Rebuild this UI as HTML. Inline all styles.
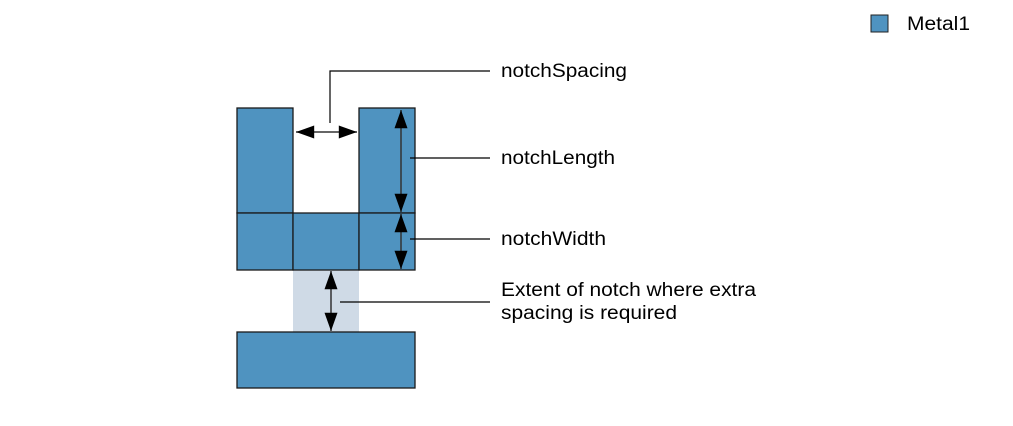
<!DOCTYPE html>
<html><head><style>body{margin:0;background:#fff}svg{display:block}text{font-family:"Liberation Sans",sans-serif;font-size:19px;fill:#000}</style></head><body>
<svg width="1013" height="426" viewBox="0 0 1013 426" xmlns="http://www.w3.org/2000/svg">
<defs>
<marker id="b" viewBox="0 0 14 10" refX="14" refY="5" markerWidth="22" markerHeight="13" markerUnits="userSpaceOnUse" orient="auto-start-reverse"><path d="M0,0L14,5L0,10z" fill="#000"/></marker>
</defs>
<rect x="871" y="15" width="17" height="17" fill="#4f93c0" stroke="#222"/>
<text x="907" y="30" textLength="63" lengthAdjust="spacingAndGlyphs">Metal1</text>
<rect x="293" y="270" width="66" height="62" fill="#cfdae6"/>
<g fill="#4f93c0" stroke="#1a1a1a" stroke-width="1.3">
<rect x="237" y="108" width="56" height="105"/>
<rect x="359" y="108" width="56" height="105"/>
<rect x="237" y="213" width="56" height="57"/>
<rect x="293" y="213" width="66" height="57"/>
<rect x="359" y="213" width="56" height="57"/>
<rect x="237" y="332" width="178" height="56"/>
</g>
<g stroke="#000" stroke-width="1.2" fill="none">
<path d="M330,123V71H490"/>
<path d="M410,158H490"/>
<path d="M410,239H490"/>
<path d="M340,302H490"/>
</g>
<g stroke="#333" stroke-width="1.5">
<line x1="296" y1="132" x2="357" y2="132" marker-start="url(#b)" marker-end="url(#b)"/>
<line x1="401" y1="110" x2="401" y2="212" marker-start="url(#b)" marker-end="url(#b)"/>
<line x1="401" y1="214" x2="401" y2="269" marker-start="url(#b)" marker-end="url(#b)"/>
<line x1="331" y1="271" x2="331" y2="331" marker-start="url(#b)" marker-end="url(#b)"/>
</g>
<text x="501" y="77" textLength="126" lengthAdjust="spacingAndGlyphs">notchSpacing</text>
<text x="501" y="164" textLength="114" lengthAdjust="spacingAndGlyphs">notchLength</text>
<text x="501" y="245" textLength="105" lengthAdjust="spacingAndGlyphs">notchWidth</text>
<text x="501" y="296" textLength="255" lengthAdjust="spacingAndGlyphs">Extent of notch where extra</text>
<text x="501" y="319" textLength="176" lengthAdjust="spacingAndGlyphs">spacing is required</text>
</svg>
</body></html>
